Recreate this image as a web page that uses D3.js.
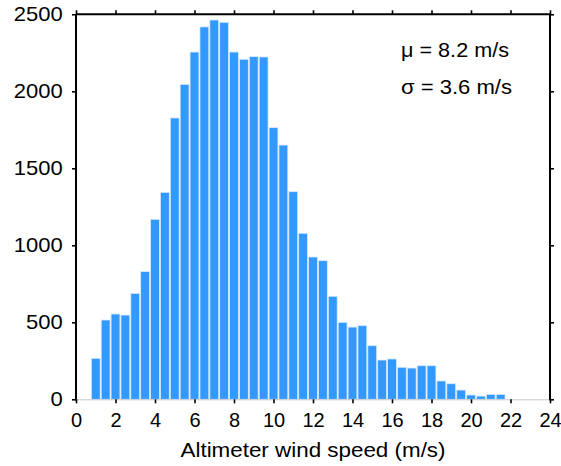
<!DOCTYPE html>
<html><head><meta charset="utf-8">
<script src="https://cdn.jsdelivr.net/npm/d3@7"></script>
<style>
body{margin:0;background:#fff;}
text{font-family:"Liberation Sans",Arial,Helvetica,sans-serif;fill:#000;}
</style></head>
<body><svg id="c" width="561" height="466"></svg>
<script>
const binCenters = [1.0,1.5,2.0,2.5,3.0,3.5,4.0,4.5,5.0,5.5,6.0,6.5,7.0,7.5,8.0,8.5,9.0,9.5,10.0,10.5,11.0,11.5,12.0,12.5,13.0,13.5,14.0,14.5,15.0,15.5,16.0,16.5,17.0,17.5,18.0,18.5,19.0,19.5,20.0,20.5,21.0,21.5];
const counts = [266,515,554,547,688,829,1169,1344,1827,2045,2255,2418,2463,2448,2255,2208,2225,2223,1764,1651,1348,1078,924,900,669,500,469,478,348,255,262,208,203,218,218,119,101,60,28,21,32,32];
const binWidth = 0.5;
const xTicks = [0,2,4,6,8,10,12,14,16,18,20,22,24];
const yTicks = [0,500,1000,1500,2000,2500];
const annotations = ["\u03bc = 8.2 m/s", "\u03c3 = 3.6 m/s"];
const xLabel = "Altimeter wind speed (m/s)";

const svg = d3.select("#c");
const L = 76, R = 550, T = 14.3, B = 399.3;
const x = d3.scaleLinear().domain([0,24]).range([L,R]);
const y = d3.scaleLinear().domain([0,2500]).range([B,T]);

// bars
svg.append("g").selectAll("rect").data(binCenters).join("rect")
  .attr("x", (d)=>x(d-binWidth/2)+0.5)
  .attr("width", (d)=>x(d+binWidth/2)-x(d-binWidth/2)-1)
  .attr("y", (d,i)=>y(counts[i]))
  .attr("height", (d,i)=>B-y(counts[i]))
  .attr("fill","#3399ff")
  .attr("stroke","#d8eaff").attr("stroke-width",0.8);

// bottom axis
const gb = svg.append("g").attr("transform",`translate(0,${B})`)
  .call(d3.axisBottom(x).tickValues(xTicks).tickSize(4).tickPadding(10).tickFormat(d3.format("d")));
gb.select(".domain").attr("stroke","#c8c8c8").attr("stroke-width",1);
gb.selectAll(".tick line").attr("stroke","#000").attr("stroke-width",1.6);
gb.selectAll(".tick text").attr("font-size",20).attr("font-family",null);

// top axis
const gt = svg.append("g").attr("transform",`translate(0,${T})`)
  .call(d3.axisTop(x).tickValues(xTicks).tickSize(4).tickFormat(""));
gt.select(".domain").attr("stroke","#000").attr("stroke-width",2).attr("d",`M${L},0H${R}`);
gt.selectAll(".tick line").attr("stroke","#000").attr("stroke-width",1.6);

// left axis
const gl = svg.append("g").attr("transform",`translate(${L},0)`)
  .call(d3.axisLeft(y).tickValues(yTicks).tickSize(4).tickPadding(8).tickFormat(d3.format("d")));
gl.select(".domain").attr("stroke","#000").attr("stroke-width",2).attr("d",`M0,${B+1}V${T}`);
gl.selectAll(".tick line").attr("stroke","#000").attr("stroke-width",1.6);
gl.selectAll(".tick text").attr("font-size",20).attr("font-family",null)
  .attr("transform","scale(1.1,1)");

// right axis
const gr = svg.append("g").attr("transform",`translate(${R},0)`)
  .call(d3.axisRight(y).tickValues(yTicks).tickSize(4).tickFormat(""));
gr.select(".domain").attr("stroke","#000").attr("stroke-width",2).attr("d",`M0,${B+1}V${T}`);
gr.selectAll(".tick line").attr("stroke","#000").attr("stroke-width",1.6);

// x label
svg.append("text").attr("x",(L+R)/2).attr("y",457).attr("text-anchor","middle")
  .attr("font-size",21).attr("textLength",265).attr("lengthAdjust","spacingAndGlyphs").text(xLabel);

// annotations
const annW = [108, 111];
svg.selectAll("text.ann").data(annotations).join("text").attr("class","ann")
  .attr("x",401).attr("y",(d,i)=>57.3+i*36.7).attr("font-size",20)
  .attr("textLength",(d,i)=>annW[i]).attr("lengthAdjust","spacingAndGlyphs").text(d=>d);
</script></body></html>
